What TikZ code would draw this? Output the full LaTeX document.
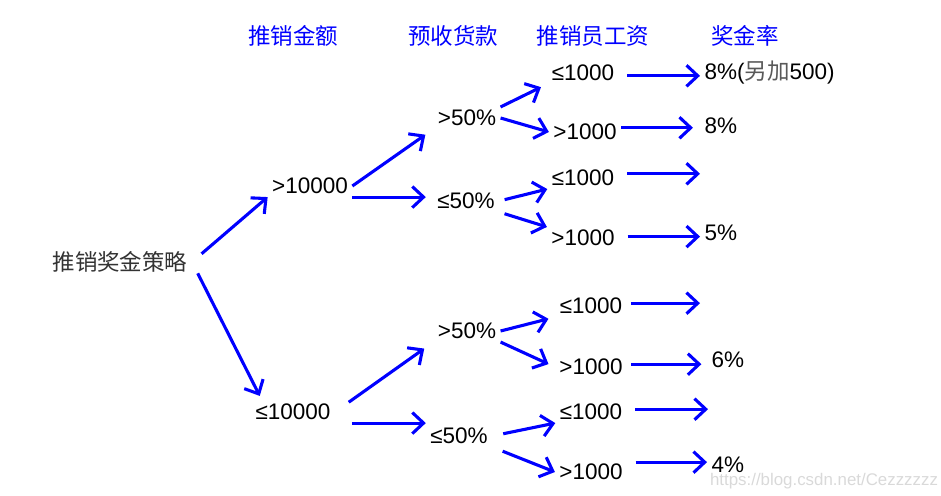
\documentclass[tikz,border=0pt]{standalone}
\usepackage{fontspec}
\setmainfont{Liberation Sans}
\newfontfamily\cjk{Noto Sans CJK SC}
\usetikzlibrary{arrows.meta}

\tikzset{
  arr/.style={draw=blue, line width=2.2pt, -{Straight Barb[length=8pt,width=15pt]}},
  lbl/.style={font=\fontsize{16}{18}\selectfont, inner xsep=3pt, inner ysep=2pt},
  head/.style={font=\cjk\fontsize{16}{18}\selectfont, text=blue},
}

\begin{document}
\begin{tikzpicture}[x=0.025cm, y=-0.025cm]
        \useasboundingbox (0,0) rectangle (941,495);

        % column titles
        \node[head] (h1) at (293,36) {推销金额};
        \node[head] (h2) at (453,36) {预收货款};
        \node[head] (h3) at (593,36) {推销员工资};
        \node[head] (h4) at (745,36) {奖金率};

        % tree
        \node[lbl, font=\cjk\fontsize{16}{18}\selectfont, text=black!80] (root) at (120,262) {推销奖金策略};

        \node[lbl] (a1) at (310,186) {>10000};
        \node[lbl] (a2) at (293,412) {≤10000};

        \node[lbl] (b1) at (467,118) {>50\%};
        \node[lbl] (b2) at (466,201) {≤50\%};
        \node[lbl] (b3) at (467,331) {>50\%};
        \node[lbl] (b4) at (459,436) {≤50\%};

        \node[lbl] (c1) at (583,73) {≤1000};
        \node[lbl] (c2) at (585,132) {>1000};
        \node[lbl] (c3) at (583,178) {≤1000};
        \node[lbl] (c4) at (583,238) {>1000};
        \node[lbl] (c5) at (591,306) {≤1000};
        \node[lbl] (c6) at (591,367) {>1000};
        \node[lbl] (c7) at (591,412) {≤1000};
        \node[lbl] (c8) at (591,472) {>1000};

        \node[lbl, anchor=west] (r1) at (700,73) {8\%(\textcolor{black!65}{\cjk 另加}500)};
        \node[lbl, anchor=west] (r2) at (700,126) {8\%};
        \coordinate (e3) at (700,178);
        \node[lbl, anchor=west] (r4) at (700,233) {5\%};
        \coordinate (e5) at (700,306);
        \node[lbl, anchor=west] (r6) at (707,360) {6\%};
        \coordinate (e7) at (708,412);
        \node[lbl, anchor=west] (r8) at (707,465) {4\%};

        \node[font=\fontsize{12}{14}\selectfont, text=black!15] (wm) at (824,481) {https://blog.csdn.net/Cezzzzzz};

        % arrows
        \draw[arr, shorten <=9pt] (root.east) -- (a1.south west);
        \draw[arr, shorten <=9pt, shorten >=4pt] (root.east) -- ([xshift=8pt]a2.north west);

        \draw[arr, shorten >=7pt] (a1.east) -- (b1.south west);
        \draw[arr, shorten >=5pt] (a1.south east) -- (a1.south east -| b2.west);
        \draw[arr, shorten <=12pt, shorten >=8pt] (a2.east) -- (b3.south west);
        \draw[arr, shorten <=12pt] (a2.south east) -- (a2.south east -| b4.west);

        \draw[arr, shorten >=5pt] (b1.north east) -- (c1.south west);
        \draw[arr] (b1.east) -- (c2.west);
        \draw[arr, shorten <=4pt] (b2.east) -- (c3.south west);
        \draw[arr, shorten <=4pt] (b2.south east) -- (c4.north west);
        \draw[arr, shorten >=5pt] (b3.east) -- (c5.south west);
        \draw[arr, shorten >=5pt] (b3.south east) -- (c6.west);
        \draw[arr, shorten <=8pt] (b4.east) -- (c7.south west);
        \draw[arr, shorten <=8pt] (b4.south east) -- (c8.west);

        \draw[arr, shorten <=6pt] ([yshift=-2pt]c1.east) -- ([yshift=-2pt]c1.east -| r1.west);
        \draw[arr, shorten >=5pt] ([yshift=3pt]c2.east) -- ([yshift=3pt]c2.east -| r2.west);
        \draw[arr, shorten <=6pt] ([yshift=3pt]c3.east) -- ([yshift=3pt]c3.east -| e3);
        \draw[arr, shorten <=6pt] ([yshift=1pt]c4.east) -- ([yshift=1pt]c4.east -| r4.west);
        \draw[arr, shorten <=3pt] ([yshift=2pt]c5.east) -- ([yshift=2pt]c5.east -| e5);
        \draw[arr, shorten <=3pt, shorten >=4pt] ([yshift=2pt]c6.east) -- ([yshift=2pt]c6.east -| r6.west);
        \draw[arr, shorten <=6pt] ([yshift=2pt]c7.east) -- ([yshift=2pt]c7.east -| e7);
        \draw[arr, shorten <=6pt] ([yshift=7pt]c8.east) -- ([yshift=7pt]c8.east -| r8.west);
\end{tikzpicture}
\end{document}
